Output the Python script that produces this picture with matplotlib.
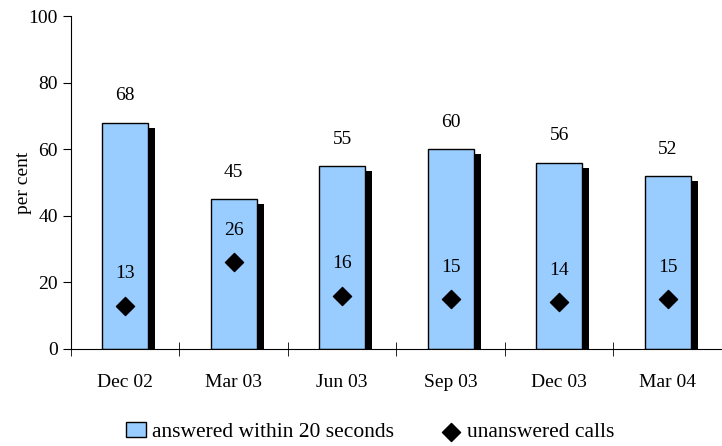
import matplotlib.pyplot as plt
import numpy as np

# Quarterly call answering figures
quarters = ["Dec 02", "Mar 03", "Jun 03", "Sep 03", "Dec 03", "Mar 04"]
answered = [68, 45, 55, 60, 56, 52]
unanswered = [13, 26, 16, 15, 14, 15]

plt.rcParams["font.family"] = ["Liberation Serif", "DejaVu Serif"]
plt.rcParams["font.size"] = 14

fig = plt.figure(figsize=(7.22, 4.46), dpi=100)
ax = fig.add_axes([0.0983, 0.2175, 0.9017, 0.7465])

x = np.arange(len(quarters))
width = 0.42

# black drop shadow behind each bar
ax.bar(x + 0.065, np.array(answered) - 1.5, width, color="black", zorder=1)
bars = ax.bar(x, answered, width, color="#99CCFF", edgecolor="black", linewidth=1,
              zorder=2, label="answered within 20 seconds")
pts = ax.scatter(x, unanswered, marker="D", s=85, color="black", zorder=3,
                 label="unanswered calls")

for i in range(len(quarters)):
    ax.text(x[i], answered[i] + 5.5, str(answered[i]), ha="center", va="bottom")
    ax.text(x[i], unanswered[i] + 7, str(unanswered[i]), ha="center", va="bottom")

ax.set_xlim(-0.5, len(quarters) - 0.5)
ax.set_ylim(0, 100)
ax.set_yticks(range(0, 101, 20))
ax.set_xticks(x)
ax.set_xticklabels(quarters)
ax.tick_params(axis="x", length=0, pad=18)
ax.set_xticks(np.arange(-0.5, len(quarters) - 0.5), minor=True)
ax.tick_params(axis="x", which="minor", direction="inout", length=10)
ax.tick_params(axis="y", direction="out", length=6)
ax.set_ylabel("per cent")
ax.yaxis.set_label_coords(-0.06, 0.5)

ax.spines["top"].set_visible(False)
ax.spines["right"].set_visible(False)

ax.legend([bars, pts], ["answered within 20 seconds", "unanswered calls"],
          loc="center", bbox_to_anchor=(0.46, -0.25), ncol=2, frameon=False,
          fontsize=15.5, handlelength=0.9, handletextpad=0.3, columnspacing=2.2)

plt.savefig("out.png", dpi=100)
